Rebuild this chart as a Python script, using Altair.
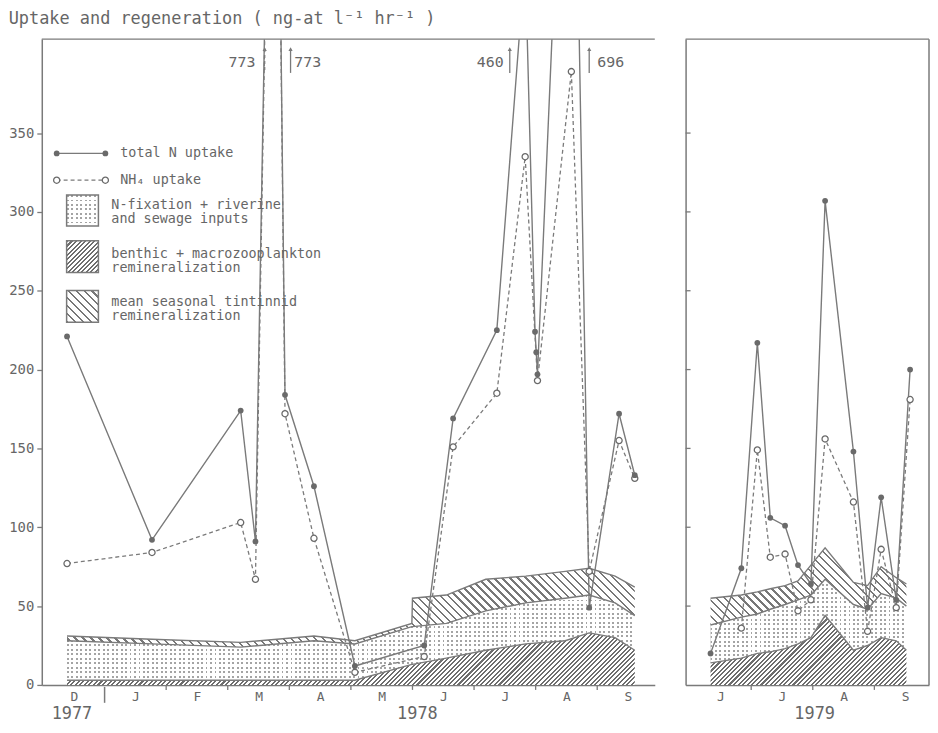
import altair as alt
import pandas as pd

# ---------------- data ----------------
# x position in months: 0 = 1 Dec 1977, 1 = 1 Jan, ..., 9 = 1 Sep (same month numbering in 1979 panel)
MONTHS = ["D", "J", "F", "M", "A", "M", "J", "J", "A", "S"]

# 1977-78 panel
t_total_78 = [0.39, 1.77, 3.21, 3.45, 3.76, 3.93, 4.40, 5.065, 6.19, 6.66, 7.37, 7.83, 7.99, 8.01, 8.03, 8.58, 8.87, 9.355, 9.61]
total_78 = [221, 92, 174, 91, 773, 184, 126, 12, 25, 169, 225, 460, 224, 211, 197, 696, 49, 172, 133]
t_nh4_78 = [0.39, 1.77, 3.21, 3.45, 3.76, 3.93, 4.40, 5.065, 6.19, 6.66, 7.37, 7.83, 8.03, 8.58, 8.87, 9.355, 9.61]
nh4_78 = [77, 84, 103, 67, 773, 172, 93, 8, 18, 151, 185, 335, 193, 389, 72, 155, 131]

t_layer_78 = [0.39, 1.77, 3.21, 4.40, 5.065, 5.99, 6.0, 6.55, 7.19, 7.84, 8.48, 8.87, 9.29, 9.61]
benthic_78 = [3, 3, 3, 3, 3, 13, 13, 17, 22, 26, 28, 33, 30, 22]      # top of benthic layer
inputs_78 = [28, 26, 24, 28, 26, 37, 37, 39, 47, 52, 55, 57, 52, 44]    # top of N-fixation layer
tintinnid_78 = [31, 29, 27, 31, 28, 39, 55, 57, 67, 69, 72, 74, 69, 62] # top of tintinnid layer

# 1979 panel
t_total_79 = [6.34, 6.84, 7.10, 7.31, 7.55, 7.76, 7.97, 8.20, 8.66, 8.89, 9.11, 9.355, 9.58]
total_79 = [20, 74, 217, 106, 101, 76, 64, 307, 148, 49, 119, 54, 200]
t_nh4_79 = [6.84, 7.10, 7.31, 7.55, 7.76, 7.97, 8.20, 8.66, 8.89, 9.11, 9.355, 9.58]
nh4_79 = [36, 149, 81, 83, 47, 54, 156, 116, 34, 86, 49, 181]

t_layer_79 = [6.34, 6.84, 7.10, 7.31, 7.55, 7.76, 7.97, 8.20, 8.66, 8.89, 9.11, 9.355, 9.52]
benthic_79 = [14, 17, 20, 21, 23, 26, 30, 44, 22, 25, 30, 28, 22]
inputs_79 = [38, 43, 45, 48, 51, 54, 57, 67, 51, 48, 58, 55, 50]
tintinnid_79 = [55, 57, 59, 61, 63, 66, 76, 87, 65, 63, 75, 68, 64]

Y_TICKS = [0, 50, 100, 150, 200, 250, 300, 350]
TICKS_78 = [2, 3, 4, 5, 6, 7, 8, 9]
YEAR_TICK_78 = [1]
TICKS_79 = [7, 8, 9]
YEARS_78 = ["1977", "1978"]
YEAR_POS_78 = [0.47, 6.08]
YEARS_79 = ["1979"]
YEAR_POS_79 = [8.03]

# off-scale values written at the top of the 1978 panel
ANN_TEXT = ["773", "773", "460", "696"]
ANN_TEXT_POS = [3.45, 4.08, 7.48, 9.00]
ANN_ALIGN = ["right", "left", "right", "left"]
ANN_ARROW_POS = [3.60, 4.02, 7.58, 8.87]
ANN_DASHED = [True, False, False, False]

TITLE = "Uptake and regeneration ( ng-at l\u207b\u00b9 hr\u207b\u00b9 )"

# ---------------- style ----------------
FONT = "DejaVu Sans Mono"
INK = "#666666"
LINE = "#7a7a7a"
DOT = "#6a6a6a"
W1, W2, H = 617, 245, 650
XD1 = [-0.02, 9.935]
XD2 = [5.935, 9.887]
YD = [0, H / 1.587]
CLEAR = "rgba(255,255,255,0)"


def stops_for(n, frac, ink, paper):
    stops = []
    for i in range(n):
        a, b, c = i / n, (i + frac) / n, (i + 1) / n
        stops += [alt.GradientStop(color=ink, offset=a), alt.GradientStop(color=ink, offset=b),
                  alt.GradientStop(color=paper, offset=b), alt.GradientStop(color=paper, offset=c)]
    return stops


def hatch(W, H_, period, frac, ink, paper, direction):
    r = H_ / W
    L = (1 + r) / (1 + r * r)
    n = max(2, int(round((W + H_) / period)))
    stops = stops_for(n, frac, ink, paper)
    if direction == "/":
        return alt.LinearGradient(gradient="linear", stops=stops, x1=0, y1=0, x2=L, y2=L * r)
    return alt.LinearGradient(gradient="linear", stops=stops, x1=0, y1=1, x2=L, y2=1 - L * r)


def benthic_fill(W, H_):
    return hatch(W, H_, 4.6, 0.45, "#6e6e6e", "#ffffff", "/")


def tint_fill(W, H_):
    return hatch(W, H_, 8.0, 0.28, "#787878", "#ffffff", "\\")


def stipple_cols(W):
    n = max(2, int(round(W / 4.5)))
    return alt.LinearGradient(gradient="linear", stops=stops_for(n, 0.42, "#a4a4a4", "#ffffff"),
                              x1=0, y1=0, x2=1, y2=0)


def stipple_rows(H_):
    n = max(2, int(round(H_ / 4.5)))
    return alt.LinearGradient(gradient="linear", stops=stops_for(n, 0.42, CLEAR, "#ffffff"),
                              x1=0, y1=0, x2=0, y2=1)


one = pd.DataFrame({"k": [0]})


def x_axis(vals):
    return alt.Axis(values=vals, labelExpr=f"{MONTHS}[floor(datum.value)]", ticks=False,
                    labelPadding=6, labelFont=FONT, labelFontSize=13, labelColor=INK,
                    domainColor=LINE, domainWidth=1.5, grid=False, title=None,
                    labelFlush=False, labelOverlap=False)


def panel(width, xdom, xaxis, yaxis, t_tot, tot, t_nh, nh, t_lay, ben, inp, tin,
          ticks, big_ticks, years, year_pos):
    xs = alt.Scale(domain=xdom, nice=False, zero=False)
    ys = alt.Scale(domain=YD, nice=False)
    X = alt.X("m:Q", scale=xs, axis=xaxis)
    Y = alt.Y("v:Q", scale=ys, axis=yaxis)
    px_m = width / (xdom[1] - xdom[0])
    px_v = H / (YD[1] - YD[0])
    Wl = (max(t_lay) - min(t_lay)) * px_m

    zero = [0] * len(t_lay)
    d_ben = pd.DataFrame({"m": t_lay, "v": ben, "v2": zero})
    d_inp = pd.DataFrame({"m": t_lay, "v": inp, "v2": ben})
    d_tin = pd.DataFrame({"m": t_lay, "v": tin, "v2": inp})
    Hi = (max(inp) - min(ben)) * px_v

    layers = [
        alt.Chart(d_ben).mark_area(color=benthic_fill(Wl, max(ben) * px_v), opacity=1).encode(x=X, y=Y, y2="v2:Q"),
        alt.Chart(d_inp).mark_area(color=stipple_cols(Wl), opacity=1).encode(x=X, y=Y, y2="v2:Q"),
        alt.Chart(d_inp).mark_area(color=stipple_rows(Hi), opacity=1).encode(x=X, y=Y, y2="v2:Q"),
        alt.Chart(d_tin).mark_area(color=tint_fill(Wl, (max(tin) - min(inp)) * px_v), opacity=1).encode(x=X, y=Y, y2="v2:Q"),
    ]
    for d in (d_ben, d_inp, d_tin):
        layers.append(alt.Chart(d).mark_line(color=LINE, strokeWidth=1.4).encode(x=X, y=Y))

    d_tot = pd.DataFrame({"m": t_tot, "v": tot})
    d_nh = pd.DataFrame({"m": t_nh, "v": nh})
    layers += [
        alt.Chart(d_nh).mark_line(color=LINE, strokeWidth=1.3, strokeDash=[4, 3], clip=True).encode(x=X, y=Y),
        alt.Chart(d_tot).mark_line(color=LINE, strokeWidth=1.4, clip=True).encode(x=X, y=Y),
        alt.Chart(d_nh).mark_point(shape="circle", size=38, filled=True, fill="white", stroke=DOT,
                                   strokeWidth=1.3, opacity=1, clip=True).encode(x=X, y=Y),
        alt.Chart(d_tot).mark_point(shape="circle", size=34, filled=True, color=DOT, opacity=1,
                                    clip=True).encode(x=X, y=Y),
    ]

    # month ticks below the axis
    layers.append(alt.Chart(pd.DataFrame({"m": ticks})).mark_rule(color=LINE, strokeWidth=1.3)
                  .encode(x=X, y=alt.value(H), y2=alt.value(H + 5)))
    if big_ticks:
        layers.append(alt.Chart(pd.DataFrame({"m": big_ticks})).mark_rule(color=LINE, strokeWidth=1.5)
                      .encode(x=X, y=alt.value(H + 2), y2=alt.value(H + 18)))
    layers.append(alt.Chart(pd.DataFrame({"m": year_pos, "label": years}))
                  .mark_text(font=FONT, fontSize=17, color=INK, baseline="middle")
                  .encode(x=X, y=alt.value(H + 29), text="label:N"))
    # frame top
    layers.append(alt.Chart(one).mark_rule(color=LINE, strokeWidth=1.5)
                  .encode(x=alt.value(0), x2=alt.value(width), y=alt.value(0)))
    return layers, X, Y, ys


# ---------------- 1977-78 panel ----------------
yaxis_left = alt.Axis(values=Y_TICKS, tickSize=5, tickColor=LINE, tickWidth=1.3, labelFont=FONT,
                      labelFontSize=14, labelColor=INK, labelPadding=3, domainColor=LINE,
                      domainWidth=1.5, grid=False, title=None)
L_layers, X1, Y1, ys1 = panel(W1, XD1, x_axis([i + 0.5 for i in range(10)]), yaxis_left,
                              t_total_78, total_78, t_nh4_78, nh4_78,
                              t_layer_78, benthic_78, inputs_78, tintinnid_78,
                              TICKS_78, YEAR_TICK_78, YEARS_78, YEAR_POS_78)

# annotations of off-scale values
ann = pd.DataFrame({"m": ANN_TEXT_POS, "label": ANN_TEXT, "align": ANN_ALIGN})
for al in ("left", "right"):
    L_layers.append(alt.Chart(ann[ann["align"] == al]).mark_text(font=FONT, fontSize=15, color=INK,
                                                                 align=al, baseline="middle")
                    .encode(x=X1, y=alt.value(23), text="label:N"))
arr = pd.DataFrame({"m": ANN_ARROW_POS, "dashed": ANN_DASHED})
L_layers.append(alt.Chart(arr[~arr["dashed"]]).mark_rule(color=LINE, strokeWidth=1.3)
                .encode(x=X1, y=alt.value(10), y2=alt.value(34)))
L_layers.append(alt.Chart(arr[arr["dashed"]]).mark_rule(color=LINE, strokeWidth=1.3, strokeDash=[3, 3])
                .encode(x=X1, y=alt.value(10), y2=alt.value(34)))
L_layers.append(alt.Chart(arr).mark_point(shape="triangle-up", size=18, filled=True, color=LINE, opacity=1)
                .encode(x=X1, y=alt.value(10)))

# legend
LX0, LX1 = 15, 64
L_layers += [
    alt.Chart(one).mark_rule(color=LINE, strokeWidth=1.4).encode(x=alt.value(LX0), x2=alt.value(LX1), y=alt.value(115)),
    alt.Chart(one).mark_rule(color=LINE, strokeWidth=1.3, strokeDash=[4, 3]).encode(x=alt.value(LX0), x2=alt.value(LX1), y=alt.value(142)),
]
for xx in (LX0, LX1):
    L_layers.append(alt.Chart(one).mark_point(shape="circle", size=34, filled=True, color=DOT, opacity=1)
                    .encode(x=alt.value(xx), y=alt.value(115)))
    L_layers.append(alt.Chart(one).mark_point(shape="circle", size=38, filled=True, fill="white", stroke=DOT,
                                              strokeWidth=1.3, opacity=1)
                    .encode(x=alt.value(xx), y=alt.value(142)))


def swatch(y0, y1, fill, stroke=True):
    kw = dict(stroke=LINE, strokeWidth=1.5) if stroke else dict(strokeWidth=0)
    return (alt.Chart(one).mark_rect(fill=fill, opacity=1, **kw)
            .encode(x=alt.value(25), x2=alt.value(57), y=alt.value(y0), y2=alt.value(y1)))


L_layers += [
    swatch(157, 188, stipple_cols(32), stroke=False),
    swatch(157, 188, stipple_rows(31)),
    swatch(203, 235, benthic_fill(32, 32)),
    swatch(253, 285, tint_fill(32, 32)),
]
legend_text = [(79, 115, "total N uptake"), (79, 142, "NH\u2084 uptake"),
               (70, 167, "N-fixation + riverine"), (70, 181, "and sewage inputs"),
               (70, 216, "benthic + macrozooplankton"), (70, 230, "remineralization"),
               (70, 265, "mean seasonal tintinnid"), (70, 279, "remineralization")]
for tx, ty, s in legend_text:
    L_layers.append(alt.Chart(one).mark_text(text=s, font=FONT, fontSize=13.5, color=INK, align="left",
                                             baseline="middle")
                    .encode(x=alt.value(tx), y=alt.value(ty)))

left = alt.layer(*L_layers).properties(width=W1, height=H)

# ---------------- 1979 panel ----------------
yaxis_right = alt.Axis(labels=False, ticks=False, domain=True, domainColor=LINE, domainWidth=1.5,
                       grid=False, title=None, values=Y_TICKS)
R_layers, X2, Y2, ys2 = panel(W2, XD2, x_axis([i + 0.5 for i in range(6, 10)]), yaxis_right,
                              t_total_79, total_79, t_nh4_79, nh4_79,
                              t_layer_79, benthic_79, inputs_79, tintinnid_79,
                              TICKS_79, [], YEARS_79, YEAR_POS_79)
R_layers.append(alt.Chart(pd.DataFrame({"v": Y_TICKS[1:]})).mark_rule(color=LINE, strokeWidth=1.3)
                .encode(x=alt.value(0), x2=alt.value(5), y=Y2))
R_layers.append(alt.Chart(one).mark_rule(color=LINE, strokeWidth=1.5)
                .encode(x=alt.value(W2), y=alt.value(0), y2=alt.value(H)))
right = alt.layer(*R_layers).properties(width=W2, height=H)

chart = alt.hconcat(left, right, spacing=29).properties(
    title=alt.TitleParams(TITLE, anchor="start", frame="bounds", font=FONT, fontSize=17,
                          fontWeight="normal", color=INK, offset=10),
    padding={"left": 0, "top": 0, "right": 0, "bottom": 0},
).configure_view(stroke=None)

chart.save("out.html", embed_options={"renderer": "svg", "actions": False})
